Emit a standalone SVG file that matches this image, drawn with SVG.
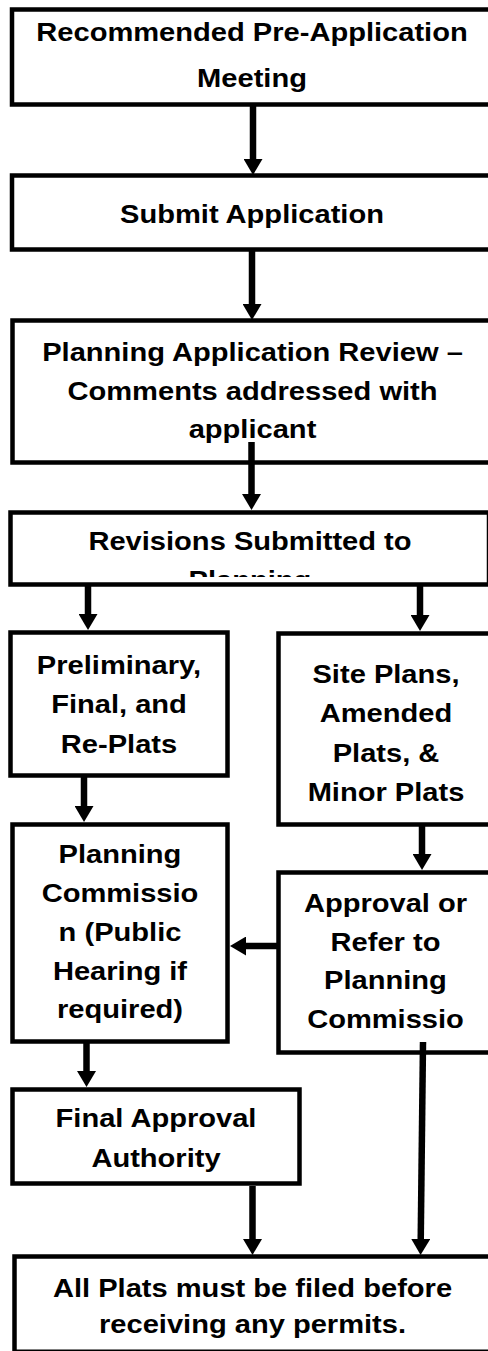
<svg xmlns="http://www.w3.org/2000/svg" width="488" height="1351" viewBox="0 0 488 1351">
<style>
.box{fill:#fff;stroke:#000;stroke-width:4.5}
.t text{font-family:"Liberation Sans",Arial,sans-serif;font-weight:bold;font-size:26.5px;text-anchor:middle;fill:#000}
.c{stroke:#000;stroke-width:6.5;fill:none;marker-end:url(#ah)}
</style>
<defs>
<marker id="ah" markerUnits="userSpaceOnUse" markerWidth="16" markerHeight="19" viewBox="0 0 16 19" refX="3" refY="9.5" orient="auto">
<path d="M0,0 L16,9.5 L0,19 z" fill="#000"/>
</marker>
<clipPath id="clip4"><rect x="10" y="512" width="480" height="65"/></clipPath>
</defs>
<rect width="488" height="1351" fill="#fff"/>
<g id="n1">
<rect class="box" x="12" y="9.5" width="480" height="95"/>
<g class="t" transform="translate(252,0) scale(1.098,1)"><text y="40.7">Recommended Pre-Application</text><text y="87">Meeting</text></g>
</g>
<g id="n2">
<rect class="box" x="12" y="175.5" width="480" height="74"/>
<g class="t" transform="translate(252,0) scale(1.098,1)"><text y="223">Submit Application</text></g>
</g>
<g id="n3">
<rect class="box" x="12.5" y="320.5" width="480" height="142"/>
<g class="t" transform="translate(252.5,0) scale(1.098,1)"><text y="361">Planning Application Review –</text><text y="400">Comments addressed with</text><text y="438.5">applicant</text></g>
</g>
<g id="n4">
<rect class="box" x="10.5" y="512.5" width="478.5" height="72"/>
<g clip-path="url(#clip4)"><g class="t" transform="translate(250,0) scale(1.098,1)"><text y="550">Revisions Submitted to</text><text y="589">Planning</text></g></g>
</g>
<g id="n5">
<rect class="box" x="10.5" y="632.5" width="217" height="143"/>
<g class="t" transform="translate(119,0) scale(1.098,1)"><text y="674">Preliminary,</text><text y="713.3">Final, and</text><text y="752.7">Re-Plats</text></g>
</g>
<g id="n6">
<rect class="box" x="278.5" y="633.5" width="215" height="191"/>
<g class="t" transform="translate(386,0) scale(1.098,1)"><text y="683.3">Site Plans,</text><text y="722.5">Amended</text><text y="761.7">Plats, &amp;</text><text y="800.7">Minor Plats</text></g>
</g>
<g id="n7">
<rect class="box" x="12.5" y="824.5" width="215" height="217"/>
<g class="t" transform="translate(120,0) scale(1.098,1)"><text y="863.3">Planning</text><text y="902">Commissio</text><text y="941.5">n (Public</text><text y="980">Hearing if</text><text y="1018.5">required)</text></g>
</g>
<g id="n8">
<rect class="box" x="278.5" y="872.5" width="215" height="180"/>
<g class="t" transform="translate(385.5,0) scale(1.098,1)"><text y="911.7">Approval or</text><text y="950.7">Refer to</text><text y="989.3">Planning</text><text y="1028.3">Commissio</text></g>
</g>
<g id="n9">
<rect class="box" x="12.5" y="1089.5" width="287" height="94"/>
<g class="t" transform="translate(156,0) scale(1.098,1)"><text y="1127.3">Final Approval</text><text y="1166.7">Authority</text></g>
</g>
<g id="n10">
<rect class="box" x="14.5" y="1256.5" width="480" height="95.25"/>
<g class="t" transform="translate(252.5,0) scale(1.098,1)"><text y="1296.7">All Plats must be filed before</text><text y="1333.3">receiving any permits.</text></g>
</g>
<g id="connectors">
<line class="c" x1="253" y1="106" x2="253" y2="162"/>
<line class="c" x1="252" y1="251" x2="252" y2="307"/>
<line class="c" x1="251.5" y1="442" x2="251.5" y2="497"/>
<line class="c" x1="88" y1="586" x2="88" y2="617"/>
<line class="c" x1="420" y1="586" x2="420" y2="618"/>
<line class="c" x1="84" y1="777" x2="84" y2="809"/>
<line class="c" x1="422" y1="826" x2="422" y2="857"/>
<line class="c" x1="277" y1="946" x2="243" y2="946"/>
<line class="c" x1="86.5" y1="1043" x2="86.5" y2="1074"/>
<line class="c" x1="423" y1="1042" x2="420.7" y2="1242"/>
<line class="c" x1="252.5" y1="1186" x2="252.5" y2="1242"/>
</g>
</svg>
